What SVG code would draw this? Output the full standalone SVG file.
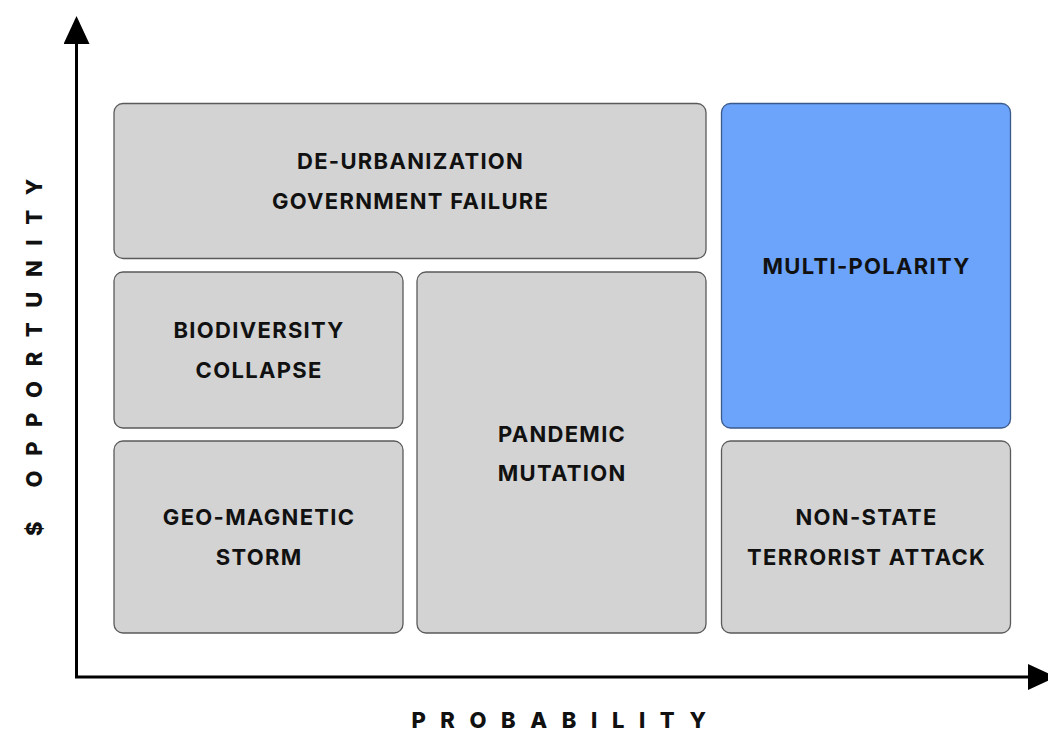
<svg xmlns="http://www.w3.org/2000/svg" width="1048" height="735" viewBox="0 0 1048 735">
  <style>
    .box { fill: #d3d3d3; stroke: #5a5a5a; stroke-width: 1.3; }
    .hl { fill: #6ca3fb; stroke: #3a5a8c; stroke-width: 1.3; }
    .lbl { font-family: Inter, "Liberation Sans", sans-serif; font-weight: 700; font-size: 22px; letter-spacing: 1.3px; fill: #111; text-anchor: middle; }
    .axislbl { font-family: Inter, "Liberation Sans", sans-serif; font-weight: 800; font-size: 22px; letter-spacing: 14.6px; fill: #111; text-anchor: middle; }
    .axis { stroke: #000; stroke-width: 3; fill: none; }
  </style>
  <defs>
    <marker id="arrow" markerUnits="userSpaceOnUse" markerWidth="28" markerHeight="26" refX="0" refY="13" orient="auto">
      <path d="M0,0 L28,13 L0,26 z" fill="#000"/>
    </marker>
  </defs>
  <rect width="1048" height="735" fill="#fff"/>

  <g id="axes">
    <polyline class="axis" points="76.5,44 76.5,677 1028,677" marker-end="url(#arrow)"/>
    <line class="axis" x1="76.5" y1="677" x2="76.5" y2="44" marker-end="url(#arrow)"/>
  </g>

  <g id="axis-labels">
    <text class="axislbl" x="566" y="728">PROBABILITY</text>
    <text class="axislbl" transform="translate(42,350) rotate(-90)">$ OPPORTUNITY</text>
  </g>

  <g id="node-deurbanization">
    <rect class="box" x="114" y="103.5" width="592" height="155" rx="9"/>
    <text class="lbl" x="410.6" y="168.5">DE-URBANIZATION</text>
    <text class="lbl" x="410.6" y="208.5">GOVERNMENT FAILURE</text>
  </g>

  <g id="node-multipolarity">
    <rect class="hl" x="721.5" y="103.5" width="289" height="324.5" rx="9"/>
    <text class="lbl" x="866.6" y="273.5">MULTI-POLARITY</text>
  </g>

  <g id="node-biodiversity">
    <rect class="box" x="114" y="272" width="289" height="156" rx="9"/>
    <text class="lbl" x="259.1" y="338">BIODIVERSITY</text>
    <text class="lbl" x="259.1" y="378">COLLAPSE</text>
  </g>

  <g id="node-pandemic">
    <rect class="box" x="417" y="272" width="289" height="361" rx="9"/>
    <text class="lbl" x="562.1" y="441.5">PANDEMIC</text>
    <text class="lbl" x="562.1" y="481">MUTATION</text>
  </g>

  <g id="node-geomagnetic">
    <rect class="box" x="114" y="441" width="289" height="192" rx="9"/>
    <text class="lbl" x="259.1" y="525">GEO-MAGNETIC</text>
    <text class="lbl" x="259.1" y="564.5">STORM</text>
  </g>

  <g id="node-nonstate">
    <rect class="box" x="721.5" y="441" width="289" height="192" rx="9"/>
    <text class="lbl" x="866.6" y="525">NON-STATE</text>
    <text class="lbl" x="866.6" y="564.5">TERRORIST ATTACK</text>
  </g>
</svg>
